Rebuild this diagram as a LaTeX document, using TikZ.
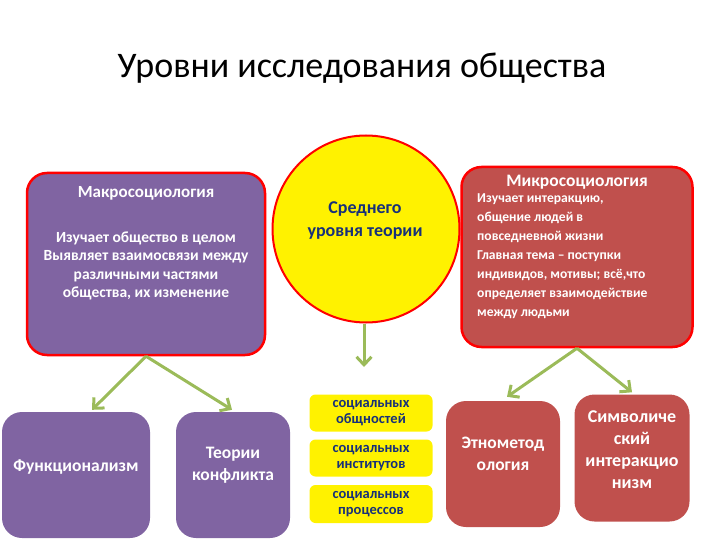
\documentclass[tikz,border=0pt]{standalone}
\usepackage{fontspec}
\setmainfont{Carlito}
\usetikzlibrary{arrows.meta}
\definecolor{macrofill}{HTML}{8064A2}
\definecolor{microfill}{HTML}{C0504D}
\definecolor{arrowgreen}{HTML}{9BBB59}
\definecolor{midblue}{HTML}{17307A}
\begin{document}
\begin{tikzpicture}[x=1pt, y=-1pt,
	macrobox/.style={shape=rectangle, fill=macrofill, rounded corners=20pt, inner sep=0pt},
	microbox/.style={shape=rectangle, fill=microfill, rounded corners=20pt, inner sep=0pt},
	midbox/.style={shape=rectangle, fill=yellow, rounded corners=6pt, inner sep=0pt},
	boxtext/.style={anchor=center, align=center, text=white, font=\bfseries\fontsize{17.5}{21.5}\selectfont, inner sep=0pt},
	midtext/.style={anchor=center, align=center, text=midblue, font=\bfseries\fontsize{14.5}{16}\selectfont, inner sep=0pt},
	greenarrow/.style={draw=arrowgreen, line width=3pt, -{Straight Barb[length=8pt, width=15pt, line width=3pt]}}
]
	\useasboundingbox (0, 0) rectangle (720, 540);
	% Paths, nodes and wires:
	\node[anchor=center, inner sep=0pt, font=\fontsize{36}{40}\selectfont] (title) at (362, 68){Уровни исследования общества};
	\node[macrobox, draw=red, line width=2.5pt, minimum width=238pt, minimum height=182pt] (macro) at (146, 264){};
	\node[anchor=center, text=white, inner sep=0pt, font=\bfseries\fontsize{17}{20}\selectfont] (macrotitle) at (146, 193){Макросоциология};
	\node[anchor=center, align=center, text=white, inner sep=0pt, font=\bfseries\fontsize{15.5}{18.5}\selectfont] (macrotext) at (146, 266){Изучает общество в целом\\Выявляет взаимосвязи между\\различными частями\\общества, их изменение};
	\node[shape=circle, fill=yellow, draw=red, line width=2pt, minimum size=187pt, inner sep=0pt] (mid) at (366, 229){};
	\node[anchor=center, align=center, text=midblue, inner sep=0pt, font=\bfseries\fontsize{18}{23}\selectfont] (midtitle) at (365, 221){Среднего\\уровня теории};
	\node[microbox, draw=red, line width=2.5pt, minimum width=231pt, minimum height=180pt] (micro) at (577, 257){};
	\node[anchor=center, text=white, inner sep=0pt, font=\bfseries\fontsize{17.5}{20}\selectfont] (microtitle) at (577, 182){Микросоциология};
	\node[anchor=north west, align=left, text=white, inner sep=0pt, font=\bfseries\fontsize{13.6}{19}\selectfont] (microtext) at (477, 193){Изучает интеракцию,\\общение людей в\\повседневной жизни\\Главная тема -- поступки\\индивидов, мотивы; всё,что\\определяет взаимодействие\\между людьми};
	\node[macrobox, minimum width=148pt, minimum height=126pt] (func) at (76, 475){};
	\node[boxtext] (functext) at (76, 467){Функционализм};
	\node[macrobox, minimum width=114pt, minimum height=126pt] (conflict) at (233, 475){};
	\node[boxtext] (conflicttext) at (233, 465){Теории\\конфликта};
	\node[midbox, minimum width=123pt, minimum height=37pt] (communities) at (371, 413){};
	\node[midtext] (communitiestext) at (371, 413){социальных\\общностей};
	\node[midbox, minimum width=123pt, minimum height=37pt] (institutes) at (371, 458){};
	\node[midtext] (institutestext) at (371, 458){социальных\\институтов};
	\node[midbox, minimum width=123pt, minimum height=38pt] (processes) at (371, 504){};
	\node[midtext] (processestext) at (371, 504){социальных\\процессов};
	\node[microbox, minimum width=114pt, minimum height=126pt] (ethno) at (503, 464){};
	\node[boxtext] (ethnotext) at (503, 454){Этнометод\\ология};
	\node[microbox, minimum width=115pt, minimum height=127pt] (symbol) at (632, 458){};
	\node[boxtext, font=\bfseries\fontsize{18}{22}\selectfont] (symboltext) at (632, 450){Символиче\\ский\\интеракцио\\низм};
	\coordinate (midend) at (364, 367);
	\draw[greenarrow] (macro.south) -- ([xshift=16pt, yshift=2pt]func.north);
	\draw[greenarrow] (macro.south) -- ([xshift=-1pt, yshift=2pt]conflict.north);
	\draw[greenarrow] ([xshift=-2pt]mid.south) -- (midend);
	\draw[greenarrow] (micro.south) -- ([xshift=4pt, yshift=4pt]ethno.north);
	\draw[greenarrow] (micro.south) -- ([yshift=2pt]symbol.north);
\end{tikzpicture}
\end{document}
